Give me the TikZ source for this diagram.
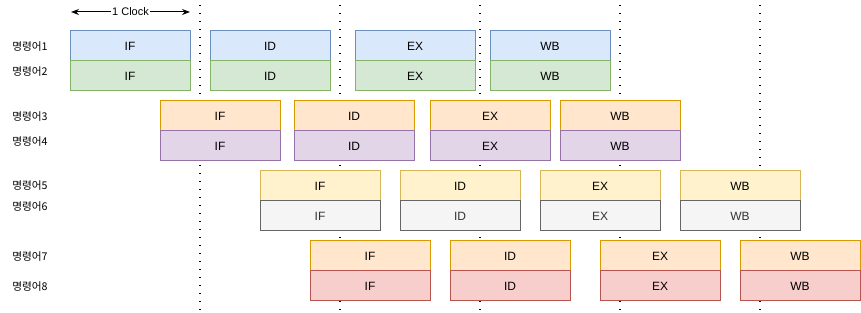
\documentclass[tikz,border=0pt]{standalone}
\usepackage{fontspec}
\setmainfont{Liberation Sans}
\newfontfamily\kofont{Noto Sans CJK KR}
\usetikzlibrary{%
	arrows.meta,%
	positioning,%
	backgrounds,%
}
\definecolor{cblue}{HTML}{6C8EBF}
\definecolor{cbluelight}{HTML}{DAE8FC}
\definecolor{cgreen}{HTML}{82B366}
\definecolor{cgreenlight}{HTML}{D5E8D4}
\definecolor{corange}{HTML}{D79B00}
\definecolor{corangelight}{HTML}{FFE6CC}
\definecolor{cpurple}{HTML}{9673A6}
\definecolor{cpurplelight}{HTML}{E1D5E7}
\definecolor{cyellow}{HTML}{D6B656}
\definecolor{cyellowlight}{HTML}{FFF2CC}
\definecolor{cgray}{HTML}{666666}
\definecolor{cgraylight}{HTML}{F5F5F5}
\definecolor{cgraytext}{HTML}{333333}
\definecolor{cred}{HTML}{B85450}
\definecolor{credlight}{HTML}{F8CECC}
\tikzset{
	>={Stealth[length=6pt,width=4.5pt]},%
	stage/.style={%
			draw,%
			rectangle,%
			line width=0.75pt,%
			minimum width=90pt,%
			minimum height=22.5pt,%
			inner sep=0pt,%
			outer sep=0pt,%
			anchor=north west,%
			font=\fontsize{9}{10}\selectfont},%
	bluestage/.style={stage, fill=cbluelight, draw=cblue},%
	greenstage/.style={stage, fill=cgreenlight, draw=cgreen},%
	orangestage/.style={stage, fill=corangelight, draw=corange},%
	purplestage/.style={stage, fill=cpurplelight, draw=cpurple},%
	yellowstage/.style={stage, fill=cyellowlight, draw=cyellow},%
	graystage/.style={stage, fill=cgraylight, draw=cgray, text=cgraytext},%
	redstage/.style={stage, fill=credlight, draw=cred},%
	rowlabel/.style={%
			anchor=west,%
			inner sep=0pt,%
			font=\kofont\fontsize{8}{9}\selectfont},%
	clockline/.style={%
			line width=1pt,%
			dash pattern=on 1pt off 5pt},%
}

\begin{document}
\begin{tikzpicture}[x=0.75pt, y=-0.75pt]%
	\useasboundingbox (0,0) rectangle (861,313);

	% clock boundaries
	\coordinate (c1top) at (200,5);   \coordinate (c1bot) at (200,313);
	\coordinate (c2top) at (340,5);   \coordinate (c2bot) at (340,313);
	\coordinate (c3top) at (480,5);   \coordinate (c3bot) at (480,313);
	\coordinate (c4top) at (620,5);   \coordinate (c4bot) at (620,313);
	\coordinate (c5top) at (760,5);   \coordinate (c5bot) at (760,313);
	\draw[clockline] (c1top) -- (c1bot);
	\draw[clockline] (c2top) -- (c2bot);
	\draw[clockline] (c3top) -- (c3bot);
	\draw[clockline] (c4top) -- (c4bot);
	\draw[clockline] (c5top) -- (c5bot);

	\coordinate (clkl) at (71,12);
	\coordinate (clkr) at (190,12);
	\draw[<->, line width=0.75pt] (clkl) -- (clkr)
		node[midway, fill=white, inner sep=1pt, font=\fontsize{8.25}{9}\selectfont] (clk) {1 Clock};

	% row labels
	\node[rowlabel] (lbl1) at (12,46.7) {명령어1};
	\node[rowlabel] (lbl2) at (12,72) {명령어2};
	\node[rowlabel] (lbl3) at (12,116.7) {명령어3};
	\node[rowlabel] (lbl4) at (12,142) {명령어4};
	\node[rowlabel] (lbl5) at (12,185.7) {명령어5};
	\node[rowlabel] (lbl6) at (12,206.7) {명령어6};
	\node[rowlabel] (lbl7) at (12,256.7) {명령어7};
	\node[rowlabel] (lbl8) at (12,286.7) {명령어8};

	% 1, 2
	\node[bluestage] (if1) at (70,31) {IF};
	\node[bluestage] (id1) at (210,31) {ID};
	\node[bluestage] (ex1) at (355,31) {EX};
	\node[bluestage] (wb1) at (490,31) {WB};
	\node[greenstage] (if2) [below=0pt of if1] {IF};
	\node[greenstage] (id2) [below=0pt of id1] {ID};
	\node[greenstage] (ex2) [below=0pt of ex1] {EX};
	\node[greenstage] (wb2) [below=0pt of wb1] {WB};

	% 3, 4
	\node[orangestage] (if3) at (160,101) {IF};
	\node[orangestage] (id3) at (294,101) {ID};
	\node[orangestage] (ex3) at (430,101) {EX};
	\node[orangestage] (wb3) at (560,101) {WB};
	\node[purplestage] (if4) [below=0pt of if3] {IF};
	\node[purplestage] (id4) [below=0pt of id3] {ID};
	\node[purplestage] (ex4) [below=0pt of ex3] {EX};
	\node[purplestage] (wb4) [below=0pt of wb3] {WB};

	% 5, 6
	\node[yellowstage] (if5) at (260,171) {IF};
	\node[yellowstage] (id5) at (400,171) {ID};
	\node[yellowstage] (ex5) at (540,171) {EX};
	\node[yellowstage] (wb5) at (680,171) {WB};
	\node[graystage] (if6) [below=0pt of if5] {IF};
	\node[graystage] (id6) [below=0pt of id5] {ID};
	\node[graystage] (ex6) [below=0pt of ex5] {EX};
	\node[graystage] (wb6) [below=0pt of wb5] {WB};

	% 7, 8
	\node[orangestage] (if7) at (310,241) {IF};
	\node[orangestage] (id7) at (450,241) {ID};
	\node[orangestage] (ex7) at (600,241) {EX};
	\node[orangestage] (wb7) at (740,241) {WB};
	\node[redstage] (if8) [below=0pt of if7] {IF};
	\node[redstage] (id8) [below=0pt of id7] {ID};
	\node[redstage] (ex8) [below=0pt of ex7] {EX};
	\node[redstage] (wb8) [below=0pt of wb7] {WB};
\end{tikzpicture}
\end{document}
